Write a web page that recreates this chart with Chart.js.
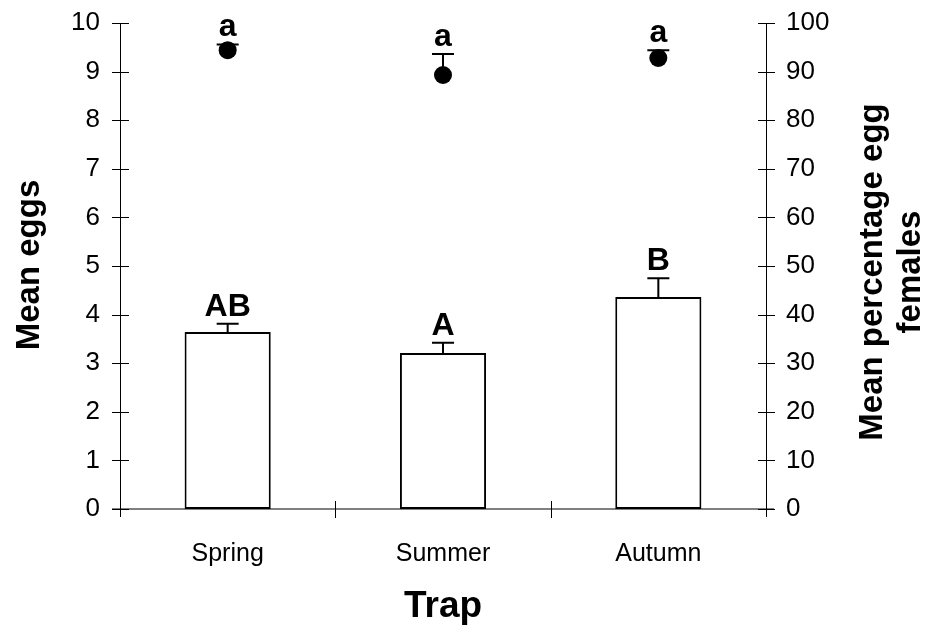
<!DOCTYPE html>
<html>
<head>
<meta charset="utf-8">
<script src="https://cdn.jsdelivr.net/npm/chart.js@4.4.1/dist/chart.umd.min.js"></script>
<style>
  html, body { margin: 0; padding: 0; background: #fff; }
  #wrap { width: 937px; height: 637px; }
</style>
</head>
<body>
<div id="wrap"><canvas id="trap-chart" width="937" height="637"></canvas></div>
<script>
var categories = ['Spring', 'Summer', 'Autumn'];
var meanEggs = [3.64, 3.21, 4.36];
var meanEggsSE = [0.17, 0.21, 0.39];
var eggLetters = ['AB', 'A', 'B'];
var pctEggFemales = [94.4, 89.3, 92.8];
var pctEggFemalesSE = [1.2, 4.3, 1.6];
var pctLetters = ['a', 'a', 'a'];
var eggTicks = [0, 1, 2, 3, 4, 5, 6, 7, 8, 9, 10];
var pctTicks = [0, 10, 20, 30, 40, 50, 60, 70, 80, 90, 100];

var FONT = '"Liberation Sans", Arial, sans-serif';

// upward error whisker with a flat cap
function whisker(ctx, x, yFrom, yTo, capW) {
    ctx.beginPath();
    ctx.moveTo(x, yFrom);
    ctx.lineTo(x, yTo);
    ctx.moveTo(x - capW / 2, yTo);
    ctx.lineTo(x + capW / 2, yTo);
    ctx.stroke();
}

// fixed box sizes so the plot area sits where it should
function fixBox(w, h) {
    return function(s) {
        if (w) s.width = w;
        if (h) s.height = h;
        s.paddingTop = 0;
        s.paddingBottom = 0;
        s.paddingLeft = 0;
        s.paddingRight = 0;
    };
}

var axesAndErrors = {
    id: 'axesAndErrors',
    beforeDatasetsDraw: function(chart) {
        var ctx = chart.ctx, a = chart.chartArea;
        var xs = chart.scales.x, yl = chart.scales.yEggs, yr = chart.scales.yPct;
        ctx.save();
        // grey baseline
        ctx.strokeStyle = '#808080';
        ctx.lineWidth = 2;
        ctx.beginPath();
        ctx.moveTo(a.left - 8, a.bottom);
        ctx.lineTo(a.right + 8, a.bottom);
        ctx.stroke();

        ctx.strokeStyle = '#000';
        ctx.lineWidth = 1;
        ctx.beginPath();
        ctx.moveTo(a.left + 0.5, yl.getPixelForValue(10));
        ctx.lineTo(a.left + 0.5, a.bottom + 8);
        ctx.moveTo(a.right + 0.5, yr.getPixelForValue(100));
        ctx.lineTo(a.right + 0.5, a.bottom + 8);
        eggTicks.forEach(function(v) {
            var y = Math.round(yl.getPixelForValue(v)) + 0.5;
            ctx.moveTo(a.left - 8, y);
            ctx.lineTo(a.left + 9, y);
        });
        pctTicks.forEach(function(v) {
            var y = Math.round(yr.getPixelForValue(v)) + 0.5;
            ctx.moveTo(a.right - 8, y);
            ctx.lineTo(a.right + 9, y);
        });
        // category separators on the x axis
        for (var i = 1; i < categories.length; i++) {
            var xb = Math.round((xs.getPixelForValue(i - 1) + xs.getPixelForValue(i)) / 2) + 0.5;
            ctx.moveTo(xb, a.bottom - 8);
            ctx.lineTo(xb, a.bottom + 9);
        }
        ctx.stroke();
        ctx.restore();
    },
    afterDatasetsDraw: function(chart) {
        var ctx = chart.ctx;
        var xs = chart.scales.x, yl = chart.scales.yEggs, yr = chart.scales.yPct;
        ctx.save();
        ctx.strokeStyle = '#000';
        ctx.fillStyle = '#000';
        ctx.lineWidth = 2;
        ctx.font = 'bold 32px ' + FONT;
        ctx.textAlign = 'center';
        ctx.textBaseline = 'alphabetic';
        categories.forEach(function(c, i) {
            var x = xs.getPixelForValue(i);
            var top = yl.getPixelForValue(meanEggs[i] + meanEggsSE[i]);
            whisker(ctx, x, yl.getPixelForValue(meanEggs[i]), top, 22);
            ctx.fillText(eggLetters[i], x, top - 8);

            var ptop = yr.getPixelForValue(pctEggFemales[i] + pctEggFemalesSE[i]);
            whisker(ctx, x, yr.getPixelForValue(pctEggFemales[i]), ptop, 22);
            ctx.fillText(pctLetters[i], x, ptop - 8);
        });
        ctx.restore();
    },
    afterDraw: function(chart) {
        var ctx = chart.ctx;
        ctx.save();
        ctx.fillStyle = '#000';
        ctx.textAlign = 'center';
        ctx.textBaseline = 'middle';
        ctx.font = 'bold 37px ' + FONT;
        ctx.fillText('Trap', 443, 607);

        ctx.font = 'bold 33px ' + FONT;
        ctx.translate(30, 265);
        ctx.rotate(-Math.PI / 2);
        ctx.fillText('Mean eggs', 0, 0);
        ctx.restore();

        ctx.save();
        ctx.fillStyle = '#000';
        ctx.font = 'bold 33px ' + FONT;
        ctx.textAlign = 'center';
        ctx.textBaseline = 'middle';
        ctx.translate(873, 272);
        ctx.rotate(-Math.PI / 2);
        ctx.fillText('Mean percentage egg', 0, 0);
        ctx.fillText('females', 0, 38);
        ctx.restore();
    }
};

var tickFont = { family: FONT, size: 26 };

new Chart(document.getElementById('trap-chart'), {
    data: {
        labels: categories,
        datasets: [
            {
                type: 'bar',
                label: 'Mean eggs',
                data: meanEggs,
                yAxisID: 'yEggs',
                backgroundColor: '#fff',
                borderColor: '#000',
                borderWidth: 2,
                borderSkipped: false,
                barPercentage: 0.4,
                categoryPercentage: 1,
                order: 2
            },
            {
                type: 'line',
                label: 'Mean percentage egg females',
                data: pctEggFemales,
                yAxisID: 'yPct',
                showLine: false,
                pointRadius: 9,
                pointBackgroundColor: '#000',
                pointBorderColor: '#000',
                pointBorderWidth: 0,
                order: 1
            }
        ]
    },
    options: {
        responsive: false,
        animation: false,
        layout: { padding: { top: 23 } },
        plugins: {
            legend: { display: false },
            tooltip: { enabled: false }
        },
        scales: {
            x: {
                grid: { display: false, drawTicks: false },
                border: { display: false },
                ticks: { font: { family: FONT, size: 25 }, color: '#000', padding: 30 },
                afterFit: fixBox(0, 128)
            },
            yEggs: {
                position: 'left',
                min: 0, max: 10,
                grid: { display: false, drawTicks: false },
                border: { display: false },
                ticks: { stepSize: 1, font: tickFont, color: '#000', padding: 20 },
                afterFit: fixBox(120, 0)
            },
            yPct: {
                position: 'right',
                min: 0, max: 100,
                grid: { display: false, drawTicks: false },
                border: { display: false },
                ticks: { stepSize: 10, font: tickFont, color: '#000', padding: 20 },
                afterFit: fixBox(171, 0)
            }
        }
    },
    plugins: [axesAndErrors]
});
</script>
</body>
</html>
